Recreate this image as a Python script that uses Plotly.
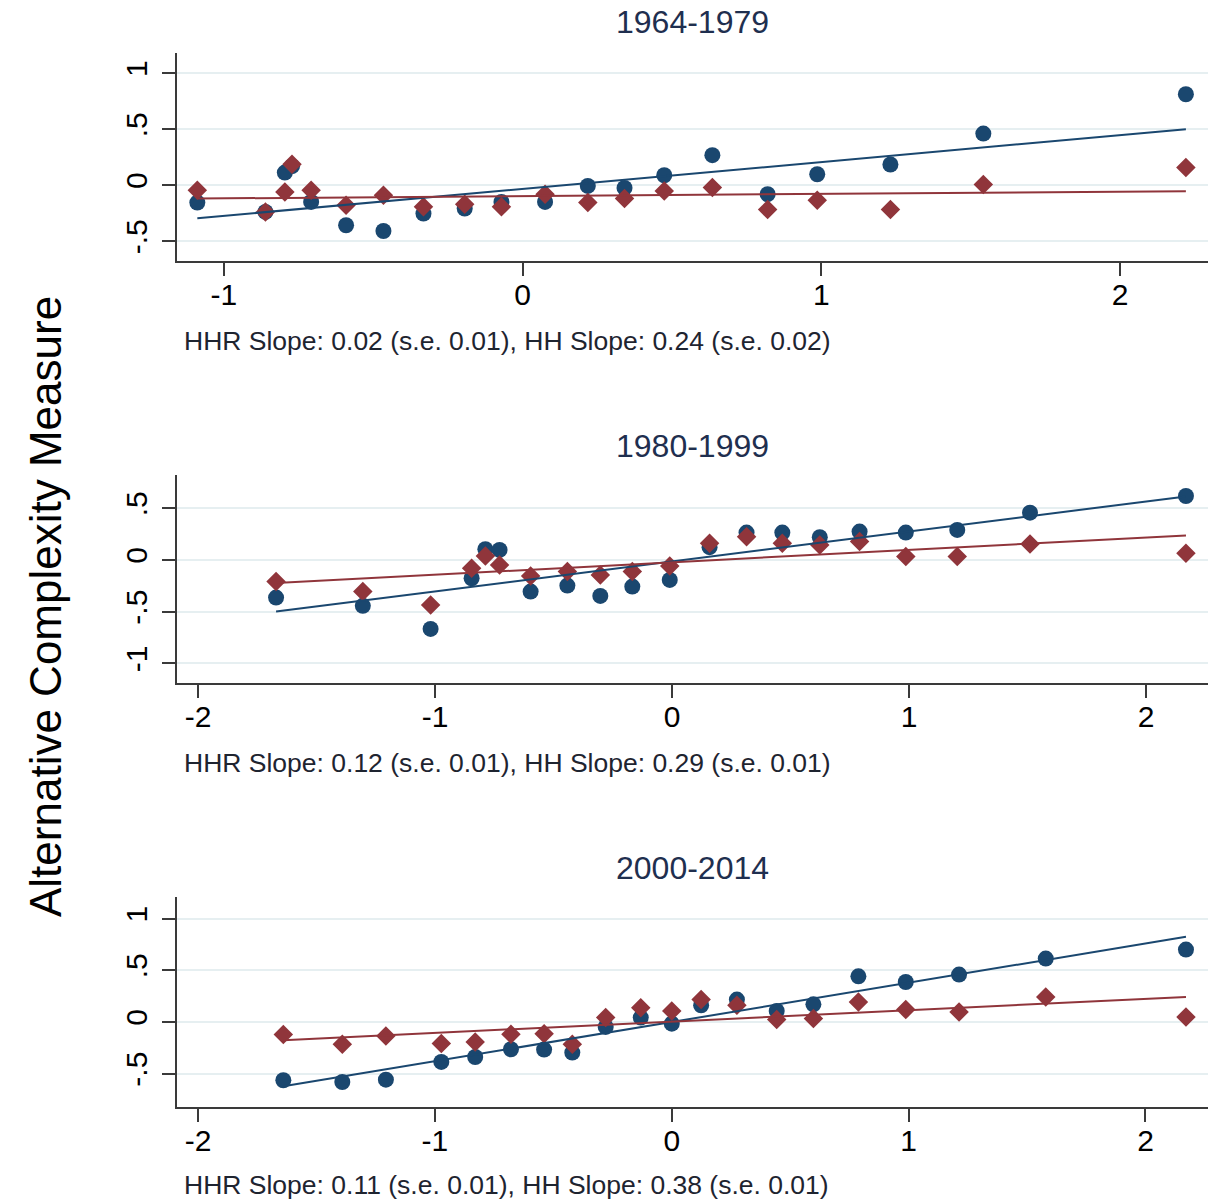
import plotly.graph_objects as go

# ---- data: binned means of the alternative complexity measure ----
periods = ["1964-1979", "1980-1999", "2000-2014"]

x_1964 = [-1.089, -0.861, -0.796, -0.772, -0.708, -0.591, -0.466, -0.332, -0.194, -0.071,
          0.075, 0.218, 0.341, 0.474, 0.635, 0.820, 0.986, 1.231, 1.542, 2.220]
hh_1964 = [-0.155, -0.238, 0.113, 0.170, -0.149, -0.357, -0.408, -0.253, -0.208, -0.149,
           -0.149, -0.006, -0.024, 0.089, 0.268, -0.080, 0.098, 0.185, 0.461, 0.812]
hhr_1964 = [-0.045, -0.238, -0.060, 0.188, -0.045, -0.179, -0.089, -0.193, -0.170, -0.193,
            -0.080, -0.155, -0.119, -0.051, -0.021, -0.217, -0.134, -0.217, 0.006, 0.158]

x_1980 = [-1.671, -1.305, -1.019, -0.846, -0.788, -0.728, -0.597, -0.442, -0.303, -0.168,
          -0.010, 0.158, 0.314, 0.465, 0.623, 0.791, 0.986, 1.203, 1.510, 2.168]
hh_1980 = [-0.364, -0.444, -0.667, -0.177, 0.103, 0.097, -0.306, -0.248, -0.348, -0.258,
           -0.193, 0.123, 0.264, 0.264, 0.219, 0.274, 0.264, 0.290, 0.457, 0.618]
hhr_1980 = [-0.209, -0.306, -0.435, -0.080, 0.039, -0.048, -0.155, -0.113, -0.145, -0.113,
            -0.058, 0.161, 0.225, 0.161, 0.145, 0.177, 0.032, 0.032, 0.155, 0.065]

x_2000 = [-1.640, -1.391, -1.207, -0.973, -0.830, -0.679, -0.539, -0.420, -0.279, -0.131,
          0.000, 0.124, 0.275, 0.443, 0.598, 0.788, 0.988, 1.213, 1.579, 2.171]
hh_2000 = [-0.564, -0.581, -0.558, -0.387, -0.339, -0.264, -0.267, -0.296, -0.048, 0.043,
           -0.016, 0.162, 0.217, 0.107, 0.171, 0.442, 0.387, 0.459, 0.614, 0.701]
hhr_2000 = [-0.122, -0.216, -0.135, -0.209, -0.193, -0.119, -0.113, -0.216, 0.043, 0.139,
            0.107, 0.217, 0.162, 0.023, 0.033, 0.194, 0.120, 0.097, 0.242, 0.048]

# linear fits: slopes and standard errors as reported, intercepts at x = 0
hhr_slope = [0.02, 0.12, 0.11]
hhr_se = [0.01, 0.01, 0.01]
hh_slope = [0.24, 0.29, 0.38]
hh_se = [0.02, 0.01, 0.01]
hhr_icpt = [-0.097, -0.023, 0.004]
hh_icpt = [-0.033, -0.015, 0.000]

# axis setup per panel
x_ranges = [[-1.157, 2.294], [-2.089, 2.261], [-2.089, 2.264]]
y_ranges = [[-0.676, 1.18], [-1.19, 0.821], [-0.823, 1.21]]
x_ticks = [[-1, 0, 1, 2], [-2, -1, 0, 1, 2], [-2, -1, 0, 1, 2]]
x_ticktext = [["-1", "0", "1", "2"], ["-2", "-1", "0", "1", "2"], ["-2", "-1", "0", "1", "2"]]
y_ticks = [[-0.5, 0, 0.5, 1], [-1, -0.5, 0, 0.5], [-0.5, 0, 0.5, 1]]
y_ticktext = [["-.5", "0", ".5", "1"], ["-1", "-.5", "0", ".5"], ["-.5", "0", ".5", "1"]]

xs = [x_1964, x_1980, x_2000]
hhs = [hh_1964, hh_1980, hh_2000]
hhrs = [hhr_1964, hhr_1980, hhr_2000]

NAVY = "#1a476f"
MAROON = "#90353b"
GRID = "#e6eff1"
AXIS = "#3a3a3a"
FONT = "Liberation Sans, Arial, sans-serif"

W, H = 1218, 1203
# plot areas in pixels (top, bottom)
panel_px = [(53, 261), (475, 683), (897, 1107)]
x_px = (177, 1208)
title_px = [22, 446, 868]
note_px = [341, 763, 1185]

fig = go.Figure()
layout = dict(
    width=W, height=H,
    margin=dict(l=0, r=0, t=0, b=0),
    paper_bgcolor="white", plot_bgcolor="white",
    showlegend=False,
    font=dict(family=FONT, color="black"),
)

annotations = []
for i in range(3):
    xa = "x" if i == 0 else f"x{i + 1}"
    ya = "y" if i == 0 else f"y{i + 1}"
    x = xs[i]
    # binned scatter: HH circles, HHR diamonds
    fig.add_trace(go.Scatter(x=x, y=hhs[i], mode="markers", xaxis=xa, yaxis=ya,
                             marker=dict(symbol="circle", size=16, color=NAVY)))
    fig.add_trace(go.Scatter(x=x, y=hhrs[i], mode="markers", xaxis=xa, yaxis=ya,
                             marker=dict(symbol="diamond", size=15, color=MAROON)))
    # fitted lines over the span of the bins
    xl = [min(x), max(x)]
    fig.add_trace(go.Scatter(x=xl, y=[hh_icpt[i] + hh_slope[i] * v for v in xl], mode="lines",
                             xaxis=xa, yaxis=ya, line=dict(color=NAVY, width=2)))
    fig.add_trace(go.Scatter(x=xl, y=[hhr_icpt[i] + hhr_slope[i] * v for v in xl], mode="lines",
                             xaxis=xa, yaxis=ya, line=dict(color=MAROON, width=2)))

    top, bot = panel_px[i]
    key_x = "xaxis" if i == 0 else f"xaxis{i + 1}"
    key_y = "yaxis" if i == 0 else f"yaxis{i + 1}"
    layout[key_x] = dict(
        domain=[x_px[0] / W, x_px[1] / W], anchor=ya, range=x_ranges[i],
        tickvals=x_ticks[i], ticktext=x_ticktext[i],
        ticks="outside", ticklen=13, tickwidth=1.5, tickcolor=AXIS,
        ticklabelstandoff=-7,
        showline=True, linecolor=AXIS, linewidth=2, showgrid=False, zeroline=False,
        tickfont=dict(size=30, color="black"),
    )
    layout[key_y] = dict(
        domain=[1 - bot / H, 1 - top / H], anchor=xa, range=y_ranges[i],
        tickvals=y_ticks[i], ticktext=y_ticktext[i], tickangle=-90,
        ticks="outside", ticklen=13, tickwidth=1.5, tickcolor=AXIS,
        ticklabelstandoff=3,
        showline=True, linecolor=AXIS, linewidth=2,
        showgrid=True, gridcolor=GRID, gridwidth=2, zeroline=False,
        tickfont=dict(size=30, color="black"),
    )
    # period title
    annotations.append(dict(
        text=periods[i], xref="paper", yref="paper",
        x=(x_px[0] + x_px[1]) / 2 / W, y=1 - title_px[i] / H,
        xanchor="center", yanchor="middle", showarrow=False,
        font=dict(size=32, color="#1f2f4f"),
    ))
    # slope note
    note = (f"HHR Slope: {hhr_slope[i]:.2f} (s.e. {hhr_se[i]:.2f}), "
            f"HH Slope: {hh_slope[i]:.2f} (s.e. {hh_se[i]:.2f})")
    annotations.append(dict(
        text=note, xref="paper", yref="paper",
        x=182 / W, y=1 - note_px[i] / H,
        xanchor="left", yanchor="middle", showarrow=False,
        font=dict(size=26.5, color="#1e2430"),
    ))

# shared y-axis title
annotations.append(dict(
    text="Alternative Complexity Measure", xref="paper", yref="paper",
    x=45 / W, y=1 - 607 / H, xanchor="center", yanchor="middle",
    textangle=-90, showarrow=False, font=dict(size=44, color="black"),
))
layout["annotations"] = annotations

fig.update_layout(**layout)
fig.write_html("out.html")
